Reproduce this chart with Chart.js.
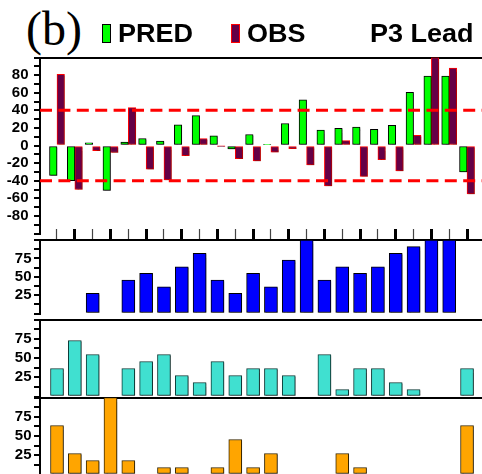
<!DOCTYPE html>
<html>
<head>
<meta charset="utf-8">
<script src="https://cdn.jsdelivr.net/npm/chart.js@4.4.1/dist/chart.umd.min.js"></script>
<style>
  html, body { margin: 0; padding: 0; background: #fff; }
  body { width: 482px; height: 474px; position: relative; overflow: hidden;
         font-family: "Liberation Sans", Arial, sans-serif; }
  canvas { position: absolute; left: 0; }
  .tag { position: absolute; left: 26px; top: 5px; font-family: "Liberation Serif", serif;
         font-size: 48px; line-height: 48px; color: #000; }
  .hdr { position: absolute; top: 20px; white-space: nowrap; font-size: 27px; line-height: 27px;
         font-weight: bold; color: #000; transform: scaleY(0.93); transform-origin: 0 100%; }
  .sw { position: absolute; top: 24px; width: 9px; height: 19px; box-sizing: border-box; }
</style>
</head>
<body>
<div class="tag">(b)</div>
<canvas id="pTop"></canvas>
<canvas id="pBlue"></canvas>
<canvas id="pTeal"></canvas>
<canvas id="pOrange"></canvas>
<script>
// ---- data -------------------------------------------------------------
// case positions along the shared horizontal axis
const CASES = [0, 1, 2, 3, 4, 5, 6, 7, 8, 9, 10, 11, 12, 13, 14, 15, 16, 17, 18, 19, 20, 21, 22, 23];

// top panel: predicted vs observed departures (%)
const PRED = [-34, -40, 3, -51, 4, 8, 5, 23.5, 34, 11, -4, 12.5, 1, 25, 52, 17.5, 19.5, 21, 18.5, 23, 60.5, 79, 79, -30];
const OBS  = [81, -50, -6, -8, 43, -27, -39, -11.5, 8, -0.5, -15, -17.5, -7.5, -3.5, -22, -46, 5.5, -35, -16, -29, 11.5, 100, 88, -55];
const THRESHOLDS = [40, -40];

// lower panels (%)
const SCORE_BLUE   = [null, null, 27.3, null, 45.5, 54.5, 36.4, 63.6, 81.8, 45.5, 27.3, 54.5, 36.4, 72.7, 100, 45.5, 63.6, 54.5, 63.6, 81.8, 90.9, 100, 100, null];
const SCORE_TEAL   = [36.4, 72.7, 54.5, null, 36.4, 45.5, 54.5, 27.3, 18.2, 45.5, 27.3, 36.4, 36.4, 27.3, null, 54.5, 9.1, 36.4, 36.4, 18.2, 9.1, null, null, 36.4];
const SCORE_ORANGE = [63.6, 27.3, 18.2, 100, 18.2, null, 9.1, 9.1, null, 9.1, 45.5, 9.1, 27.3, null, null, null, 27.3, 9.1, null, null, null, null, null, 63.6];

// axis ranges and tick spacing
const TOP_Y = { min: -100, max: 100, step: 10, labelEvery: 20 };
const LOW_Y = { min: 0, max: 100, step: 12.5, labelEvery: 25 };
const X_MIN = -0.953, X_MAX = 23.84;

// ---- styles -----------------------------------------------------------
const FONT = '"Liberation Sans", Arial, sans-serif';
const PRED_STYLE = { fill: '#00ff00', stroke: '#000000', width: 1 };
const OBS_STYLE  = { fill: '#650046', stroke: '#ff0000', width: 1 };

// ---- header: panel tag, legend keys, title ----------------------------
function addHeaderText(text, left) {
  const d = document.createElement('div');
  d.className = 'hdr'; d.style.left = left + 'px'; d.textContent = text;
  document.body.appendChild(d);
}
function addSwatch(left, st) {
  const d = document.createElement('div');
  d.className = 'sw'; d.style.left = left + 'px';
  d.style.background = st.fill; d.style.border = st.width + 'px solid ' + st.stroke;
  document.body.appendChild(d);
}
addSwatch(102, PRED_STYLE); addHeaderText('PRED', 118);
addSwatch(231, OBS_STYLE);  addHeaderText('OBS', 247);
addHeaderText('P3 Lead', 370);

// ---- helpers ----------------------------------------------------------
const points = values => CASES.map((c, i) => ({ x: c, y: values[i] }));

function yAxis(cfg, labelPad) {
  return {
    type: 'linear', position: 'left', min: cfg.min, max: cfg.max,
    afterFit: s => { s.width = 40; },
    afterBuildTicks: s => {
      const t = [];
      for (let v = cfg.min; v <= cfg.max + 1e-9; v += cfg.step) t.push({ value: v });
      s.ticks = t;
    },
    border: { display: true, color: '#000', width: 2 },
    grid: {
      drawOnChartArea: false, drawTicks: true, color: '#000', lineWidth: 2,
      tickLength: 6
    },
    ticks: {
      autoSkip: false, padding: labelPad, color: '#000',
      font: { family: FONT, size: 15, weight: 'bold' },
      callback: v => (v % cfg.labelEvery === 0 && v > cfg.min && v < cfg.max) ? String(v) : ''
    }
  };
}

function xAxis(withTicks) {
  return {
    type: 'linear', position: 'top', min: X_MIN, max: X_MAX, offset: false,
    afterFit: s => { s.height = 0; },
    afterBuildTicks: s => { s.ticks = CASES.map(v => ({ value: v })); },
    border: { display: true, color: '#000', width: 2 },
    grid: {
      display: withTicks, offset: false, drawOnChartArea: false, drawTicks: true, tickLength: 11,
      tickWidth: c => (c.index % 2 ? 3 : 1.2),
      tickColor: c => (c.index % 2 ? '#000' : '#444')
    },
    ticks: { display: false }
  };
}

// soft drop shadow under each bar
const barShadow = {
  id: 'barShadow',
  beforeDatasetDraw(chart, args) {
    if (args.meta.type !== 'bar') return;
    const ctx = chart.ctx;
    ctx.save();
    ctx.shadowColor = 'rgba(0,0,0,0.28)';
    ctx.shadowOffsetX = 1.2; ctx.shadowOffsetY = 1; ctx.shadowBlur = 1;
  },
  afterDatasetDraw(chart, args) {
    if (args.meta.type !== 'bar') return;
    chart.ctx.restore();
  }
};

function makePanel(id, canvasTop, canvasHeight, padTop, padBottom, datasets, yCfg, labelPad, withXTicks) {
  const cv = document.getElementById(id);
  cv.width = 482; cv.height = canvasHeight;
  cv.style.top = canvasTop + 'px';
  cv.style.width = '482px'; cv.style.height = canvasHeight + 'px';
  return new Chart(cv, {
    type: 'bar',
    data: { datasets },
    plugins: [barShadow],
    options: {
      responsive: false, animation: false, devicePixelRatio: 1,
      layout: { padding: { left: 0, right: 0, top: padTop, bottom: padBottom } },
      plugins: { legend: { display: false }, tooltip: { enabled: false } },
      scales: { x: xAxis(withXTicks), y: yAxis(yCfg, labelPad) }
    }
  });
}

function barSet(values, fill, stroke, width, thickness) {
  return {
    type: 'bar', data: points(values), backgroundColor: fill, borderColor: stroke,
    borderWidth: width, borderSkipped: false, barThickness: thickness, order: 1
  };
}

// ---- top panel --------------------------------------------------------
const topSets = [
  barSet(PRED, PRED_STYLE.fill, PRED_STYLE.stroke, PRED_STYLE.width, 7.5),
  barSet(OBS, OBS_STYLE.fill, OBS_STYLE.stroke, OBS_STYLE.width, 7.5)
];
THRESHOLDS.forEach(t => topSets.push({
  type: 'line', data: [{ x: X_MIN, y: t }, { x: X_MAX, y: t }],
  borderColor: '#ff0000', borderWidth: 3, borderDash: [12, 6.4], pointRadius: 0, order: 0
}));
makePanel('pTop', 43, 205, 10, 8.5, topSets, TOP_Y, 5.5, false);

// ---- lower panels -----------------------------------------------------
makePanel('pBlue', 225, 100, 15, 7,
  [barSet(SCORE_BLUE, '#0000ff', '#000000', 1, 13)], LOW_Y, 2.5, true);
makePanel('pTeal', 308, 100, 10, 11.5,
  [barSet(SCORE_TEAL, '#40e0d0', '#0d3b37', 1, 13)], LOW_Y, 2.5, false);
makePanel('pOrange', 386, 100, 10.3, 11.5,
  [barSet(SCORE_ORANGE, '#ffa500', '#3a2800', 1, 13)], LOW_Y, 2.5, false);
</script>
</body>
</html>
